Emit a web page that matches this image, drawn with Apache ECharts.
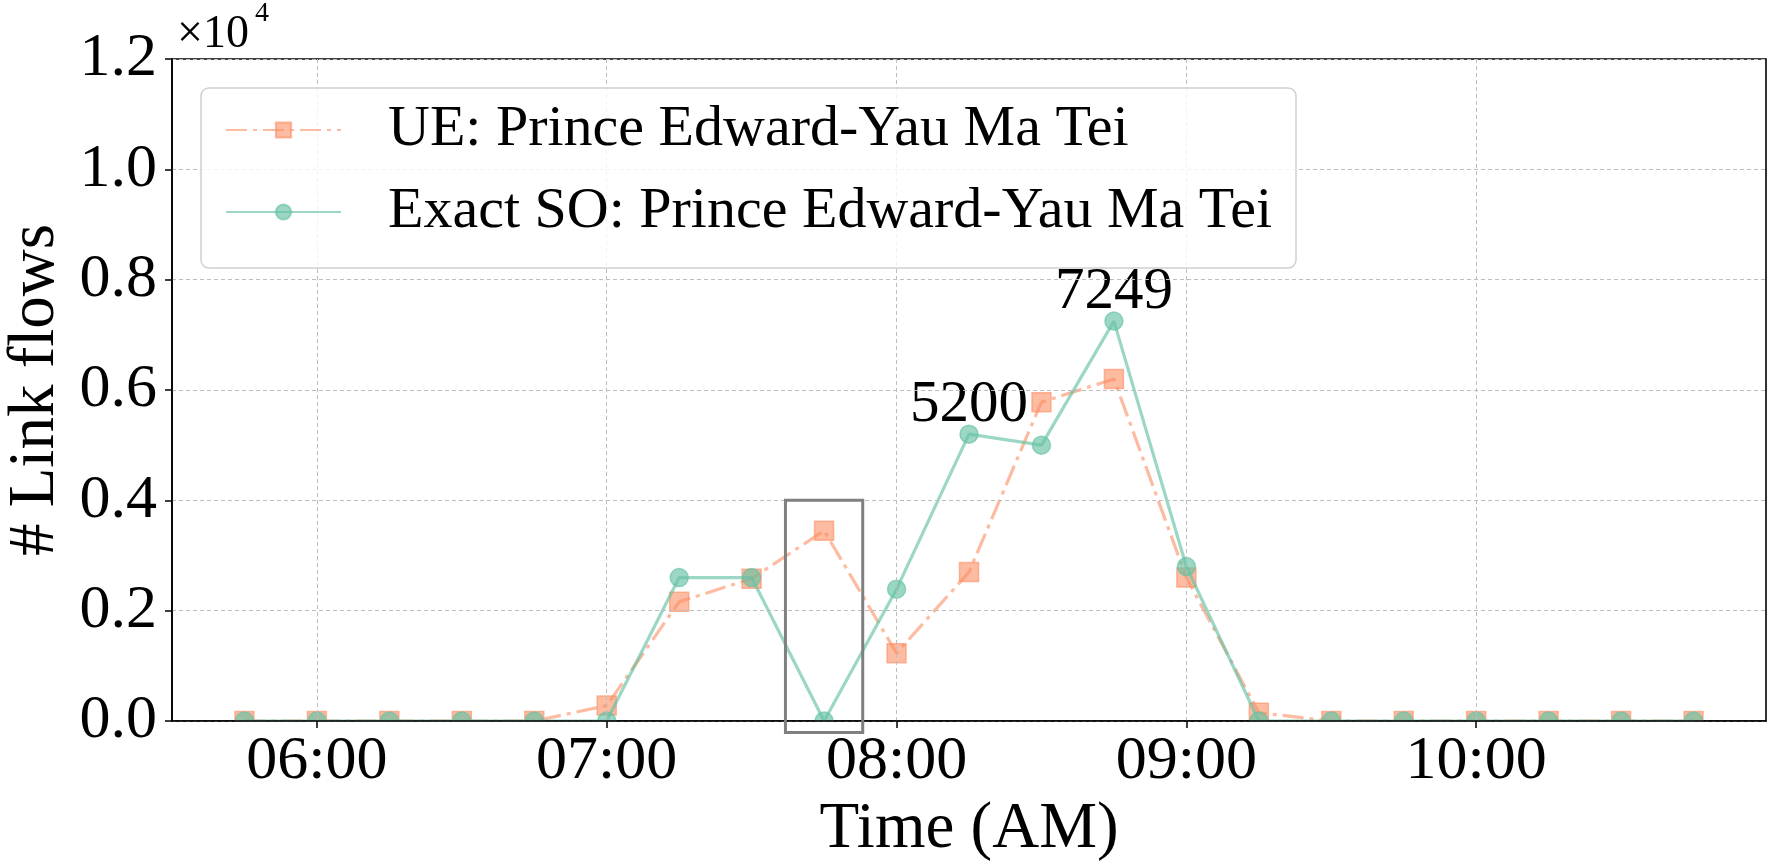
<!DOCTYPE html>
<html><head><meta charset="utf-8">
<script src="https://cdn.jsdelivr.net/npm/echarts@6/dist/echarts.min.js"></script>
<style>html,body{margin:0;padding:0;background:#fff}#chart{width:1781px;height:863px}</style>
</head><body><div id="chart"></div>
<script>
const times = ['05:45','06:00','06:15','06:30','06:45','07:00','07:15','07:30','07:45','08:00','08:15','08:30','08:45','09:00','09:15','09:30','09:45','10:00','10:15','10:30','10:45'];
const ueFlows = [0,0,0,0,0,280,2160,2580,3450,1230,2700,5780,6200,2600,150,0,0,0,0,0,0];
const soFlows = [0,0,0,0,0,0,2600,2600,0,2390,5200,5000,7249,2800,0,0,0,0,0,0,0];
const hourTicks = ['06:00','07:00','08:00','09:00','10:00'];
const xRange = ['05:30','11:00'];
const yTicks = [0,2000,4000,6000,8000,10000,12000];
const annotatedTimes = ['08:15','08:45'];
const boxTimes = ['07:37','07:53'];
const boxFlows = [-210,4000];
const seriesNames = ['UE: Prince Edward-Yau Ma Tei','Exact SO: Prince Edward-Yau Ma Tei'];

const FONT = "'Liberation Serif','Times New Roman',serif";
const toMin = s => { const [h,m] = s.split(':').map(Number); return h*60+m; };
const fmt = v => { const h = Math.floor(v/60), m = Math.round(v%60); return String(h).padStart(2,'0')+':'+String(m).padStart(2,'0'); };

const ueCol = 'rgba(252,141,98,0.6)';
const soCol = 'rgba(102,194,165,0.65)';

function build(vals, ann) {
  return times.map((t,i) => {
    const item = { value: [toMin(t), vals[i]] };
    if (ann && annotatedTimes.includes(t)) {
      item.label = { show: true, position: 'top', distance: -11, formatter: p => String(p.value[1]),
        fontSize: 59, fontFamily: FONT, color: '#000' };
    }
    return item;
  });
}

const chart = echarts.init(document.getElementById('chart'));
chart.setOption({
  animation: false,
  backgroundColor: '#fff',
  grid: { left: 172, right: 15, top: 59, bottom: 142, outerBoundsMode: 'none', containLabel: false,
    show: true, borderColor: '#000', borderWidth: 1.6, backgroundColor: 'transparent' },
  xAxis: {
    type: 'value', min: toMin(xRange[0]), max: toMin(xRange[1]), z: 10,
    name: 'Time (AM)', nameLocation: 'middle', nameGap: 63,
    nameTextStyle: { fontSize: 65, fontFamily: FONT, color: '#000' },
    axisLine: { show: true, lineStyle: { color: '#000', width: 1.6 } },
    axisTick: { show: true, length: 7, lineStyle: { color: '#000', width: 1.5 }, customValues: hourTicks.map(toMin) },
    axisLabel: { fontSize: 62, fontFamily: FONT, color: '#000', margin: 10, customValues: hourTicks.map(toMin), formatter: v => fmt(v) },
    splitLine: { show: true, lineStyle: { color: '#bdbdbd', width: 1, type: [4, 3] } }
  },
  yAxis: {
    type: 'value', min: yTicks[0], max: yTicks[yTicks.length-1], interval: yTicks[1]-yTicks[0], z: 10,
    name: '# Link flows', nameLocation: 'middle', nameGap: 104,
    nameTextStyle: { fontSize: 65, fontFamily: FONT, color: '#000' },
    axisLine: { show: true, lineStyle: { color: '#000', width: 1.6 } },
    axisTick: { show: true, length: 7, lineStyle: { color: '#000', width: 1.5 } },
    axisLabel: { fontSize: 62, fontFamily: FONT, color: '#000', margin: 15, formatter: v => (v/10000).toFixed(1) },
    splitLine: { show: true, lineStyle: { color: '#bdbdbd', width: 1, type: [4, 3] } }
  },
  legend: {
    data: seriesNames, orient: 'vertical', left: 201, top: 88, z: 20,
    itemWidth: 115, itemHeight: 19, itemGap: 24,
    padding: [13, 24, 27, 24],
    backgroundColor: 'rgba(255,255,255,0.8)', borderColor: '#d0d0d0', borderWidth: 1.5, borderRadius: 8,
    textStyle: { fontSize: 58, fontFamily: FONT, color: '#000', lineHeight: 58, padding: [0,0,0,42] }
  },
  graphic: [
    { type: 'text', x: 177, y: 35, style: { text: '×10', fontSize: 46, fontFamily: FONT, fill: '#000', verticalAlign: 'middle' } },
    { type: 'text', x: 255, y: 14, style: { text: '4', fontSize: 28, fontFamily: FONT, fill: '#000', verticalAlign: 'middle' } }
  ],
  series: [
    { name: seriesNames[0], type: 'line', data: build(ueFlows, false),
      symbol: 'rect', symbolSize: 19, z: 2,
      lineStyle: { color: ueCol, width: 3.2, type: [21, 6, 4, 6] },
      itemStyle: { color: ueCol, borderColor: ueCol, borderWidth: 1.5 } },
    { name: seriesNames[1], type: 'line', data: build(soFlows, true),
      symbol: 'circle', symbolSize: 18, z: 3,
      lineStyle: { color: soCol, width: 3.2 },
      itemStyle: { color: soCol, borderColor: soCol, borderWidth: 1.5 } },
    { type: 'custom', silent: true, clip: false, z: 12,
      encode: { x: [0,1], y: [2,3] },
      data: [[toMin(boxTimes[0]), toMin(boxTimes[1]), boxFlows[0], boxFlows[1]]],
      renderItem: (params, api) => {
        const a = api.coord([api.value(0), api.value(3)]);
        const b = api.coord([api.value(1), api.value(2)]);
        return { type: 'rect', shape: { x: a[0], y: a[1], width: b[0]-a[0], height: b[1]-a[1] },
          style: { fill: 'none', stroke: '#808080', lineWidth: 3 } };
      } }
  ]
});
// white mask just below the plot so markers at zero appear clipped at the axis, like the original
const p0 = chart.convertToPixel({ gridIndex: 0 }, [toMin(xRange[0]), 0]);
const p1 = chart.convertToPixel({ gridIndex: 0 }, [toMin(xRange[1]), 0]);
chart.setOption({ graphic: [ {}, {}, { type: 'rect', z: 8, silent: true,
  shape: { x: p0[0] - 12, y: p0[1] + 1, width: p1[0] - p0[0] + 24, height: 12 },
  style: { fill: '#fff' } } ] });
</script></body></html>
